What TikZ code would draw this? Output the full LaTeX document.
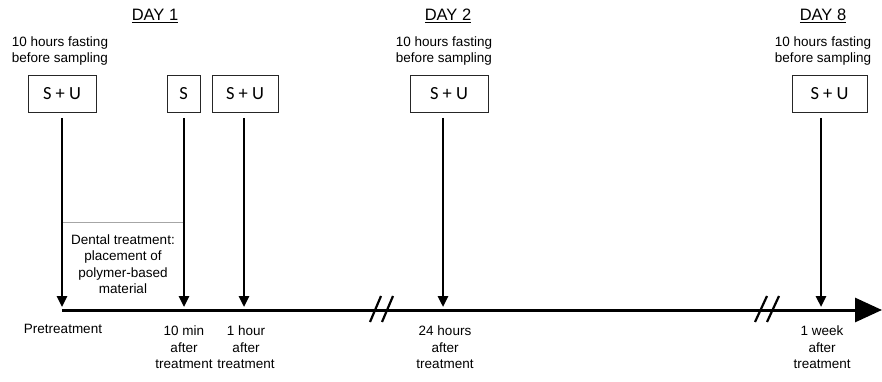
\documentclass[tikz,border=0pt]{standalone}
\usepackage{fontspec}
\setmainfont{Liberation Sans}
\newfontfamily\boxfont{Carlito}
\usetikzlibrary{arrows.meta}
\begin{document}
\begin{tikzpicture}[x=1pt,y=-1pt,
  sample/.style={draw=black!85,line width=0.9pt,minimum height=37pt,inner sep=0pt,font=\boxfont\fontsize{18.5}{20}\selectfont},
  txt/.style={align=center,font=\fontsize{13.5}{16.5}\selectfont,inner sep=0pt},
  dayhead/.style={font=\fontsize{16.5}{18}\selectfont,inner sep=0pt},
  tick/.style={line width=2.6pt,-{Triangle[length=11pt,width=10pt]}},
  brk/.style={line width=2.2pt}]
\useasboundingbox (0,0) rectangle (882,382);
% header
\node[dayhead] (d1) at (155,16) {\underline{DAY 1}};
\node[dayhead] (d2) at (448,16) {\underline{DAY 2}};
\node[dayhead] (d8) at (823,16) {\underline{DAY 8}};
\node[txt] (f1) at (60,51) {10 hours fasting\\before sampling};
\node[txt] (f2) at (444,51) {10 hours fasting\\before sampling};
\node[txt] (f8) at (823,51) {10 hours fasting\\before sampling};
% boxes
\node[sample,minimum width=68pt] (b1) at (62,93.5) {S + U};
\node[sample,minimum width=33pt] (b2) at (183.5,93.5) {S};
\node[sample,minimum width=66pt] (b3) at (245,93.5) {S + U};
\node[sample,minimum width=78pt] (b4) at (449,93.5) {S + U};
\node[sample,minimum width=75pt] (b5) at (829.5,93.5) {S + U};
% timeline
\coordinate (tl0) at (62,310);
\coordinate (tlend) at (882,310);
\draw[line width=3pt,-{Triangle[length=27pt,width=24pt]}] (tl0) -- (tlend);
% arrow start/end
\coordinate (s1) at (62,118); \coordinate (e1) at (62,307);
\coordinate (s2) at (184,118); \coordinate (e2) at (184,307);
\coordinate (s3) at (244,118); \coordinate (e3) at (244,307);
\coordinate (s4) at (443,118); \coordinate (e4) at (443,307);
\coordinate (s5) at (821,118); \coordinate (e5) at (821,307);
\foreach \i in {1,...,5} \draw[tick] (s\i) -- (e\i);
% treatment bracket
\coordinate (g1) at (63,222); \coordinate (g2) at (183,222);
\draw[gray!70,line width=0.9pt] (g1) -- (g2);
\node[txt] (dt) at (123,264) {Dental treatment:\\placement of\\polymer-based\\material};
% breaks
\coordinate (k1a) at (370,322); \coordinate (k1b) at (381,296);
\coordinate (k2a) at (382,322); \coordinate (k2b) at (393,296);
\coordinate (k3a) at (755,322); \coordinate (k3b) at (767,296);
\coordinate (k4a) at (767,322); \coordinate (k4b) at (779,296);
\draw[brk] (k1a) -- (k1b); \draw[brk] (k2a) -- (k2b);
\draw[brk] (k3a) -- (k3b); \draw[brk] (k4a) -- (k4b);
% labels
\node[txt,anchor=north] (l1) at (63,324) {Pretreatment};
\node[txt,anchor=north] (l2) at (184,326) {10 min\\after\\treatment};
\node[txt,anchor=north] (l3) at (246,326) {1 hour\\after\\treatment};
\node[txt,anchor=north] (l4) at (445,326) {24 hours\\after\\treatment};
\node[txt,anchor=north] (l5) at (822,326) {1 week\\after\\treatment};
\end{tikzpicture}
\end{document}
